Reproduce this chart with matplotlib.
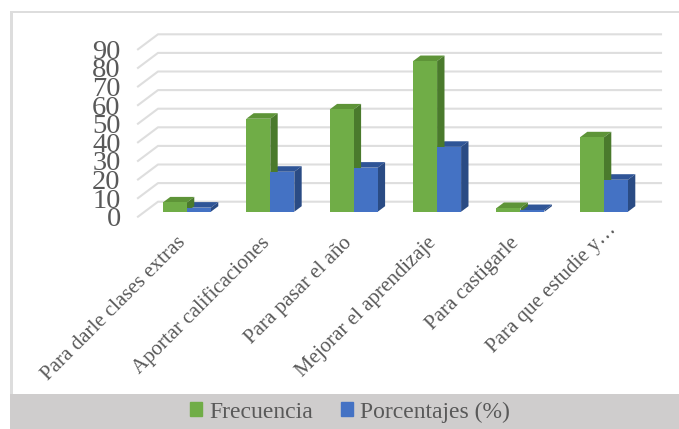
import matplotlib
matplotlib.use('agg')

from matplotlib import pyplot as plt
from matplotlib.patches import Patch, Polygon, Rectangle
from matplotlib.transforms import ScaledTranslation

categories = ["Para darle clases extras", "Aportar calificaciones", "Para pasar el año",
              "Mejorar el aprendizaje", "Para castigarle", "Para que estudie y…"]
frecuencia = [5, 50, 55, 81, 2, 40]
porcentajes = [2.2, 21.5, 23.7, 34.9, 0.9, 17.2]
y_ticks = list(range(0, 100, 10))

W, H = 679, 429
GREEN = ("#70AD47", "#5E9438", "#4A7A2C")
BLUE = ("#4472C4", "#2F5597", "#2A4B84")
GRID = "#DEDEDE"
TEXT = "#595959"

plt.rcParams['font.family'] = ['Liberation Serif', 'DejaVu Serif']

fig = plt.figure(figsize=(W / 100, H / 100), dpi=100)

# outer frame and legend band, in figure pixels
fig.add_artist(Rectangle((10 / W, 0), 2.5 / W, 1 - 11 / H, transform=fig.transFigure, color="#DDDDDD", lw=0))
fig.add_artist(Rectangle((10 / W, 1 - 13 / H), 1 - 10 / W, 2 / H, transform=fig.transFigure, color="#DDDDDD", lw=0))
fig.add_artist(Rectangle((10 / W, 0), 1 - 10 / W, 35 / H, transform=fig.transFigure, color="#CFCDCD", lw=0))

# axes = front plane of the fake 3d box
left, right, bottom, top = 138, 641, 216.7, 49.3
ax = fig.add_axes([left / W, 1 - bottom / H, (right - left) / W, (bottom - top) / H])
ax.set_xlim(-0.507, 5.524)
ax.set_ylim(0, 90)
ax.patch.set_alpha(0)
for s in ax.spines.values():
    s.set_visible(False)

# how far the floor goes back, in data units
dx = 20 / 83.4
dy = 15 / 1.86
x0, x1 = ax.get_xlim()

for t in y_ticks:
    ax.plot([x0, x0 + dx, x1 + dx], [t, t + dy, t + dy], color=GRID, lw=1.5, clip_on=False, zorder=1)


def bar3d(x, w, v, cols):
    # front starts a third of the way into the floor
    d0, d1 = 0.33, 0.70
    xa = x + d0 * dx
    xb = xa + w
    ya = d0 * dy
    yb = ya + v
    ox = (d1 - d0) * dx
    oy = (d1 - d0) * dy
    ax.add_patch(Polygon([(xa, yb), (xb, yb), (xb + ox, yb + oy), (xa + ox, yb + oy)], color=cols[1], lw=0, zorder=3, clip_on=False))
    ax.add_patch(Polygon([(xb, ya), (xb + ox, ya + oy), (xb + ox, yb + oy), (xb, yb)], color=cols[2], lw=0, zorder=3, clip_on=False))
    ax.add_patch(Polygon([(xa, ya), (xb, ya), (xb, yb), (xa, yb)], color=cols[0], lw=0, zorder=4, clip_on=False))


bw = 24 / 83.4
for i in range(len(categories)):
    bar3d(i, bw, porcentajes[i], BLUE)
    bar3d(i - bw, bw, frecuencia[i], GREEN)

ax.set_yticks(y_ticks)
ax.set_yticklabels(y_ticks, fontsize=20.5, color=TEXT)
# labels sit a bit left of the bar centres
ax.set_xticks([i - 0.05 for i in range(len(categories))])
ax.set_xticklabels(categories, fontsize=15, color=TEXT, rotation=45, ha='right', va='top', rotation_mode='anchor')
ax.tick_params(axis='both', length=0)
ax.tick_params(axis='y', pad=12.5)
ax.tick_params(axis='x', pad=12)

# the cut label goes further up its own slope
last = ax.get_xticklabels()[-1]
last.set_transform(last.get_transform() + ScaledTranslation(14 / 100, 13 / 100, fig.dpi_scale_trans))

handles = [Patch(color=GREEN[0], label="Frecuencia"), Patch(color=BLUE[0], label="Porcentajes (%)")]
fig.legend(handles=handles, loc='center', bbox_to_anchor=(350 / W, 1 - 412 / H), ncol=2, frameon=False,
           fontsize=17, labelcolor=TEXT, handlelength=0.5, handleheight=0.5, handletextpad=0.3, columnspacing=1.2)

plt.savefig("out.png", dpi=100)
